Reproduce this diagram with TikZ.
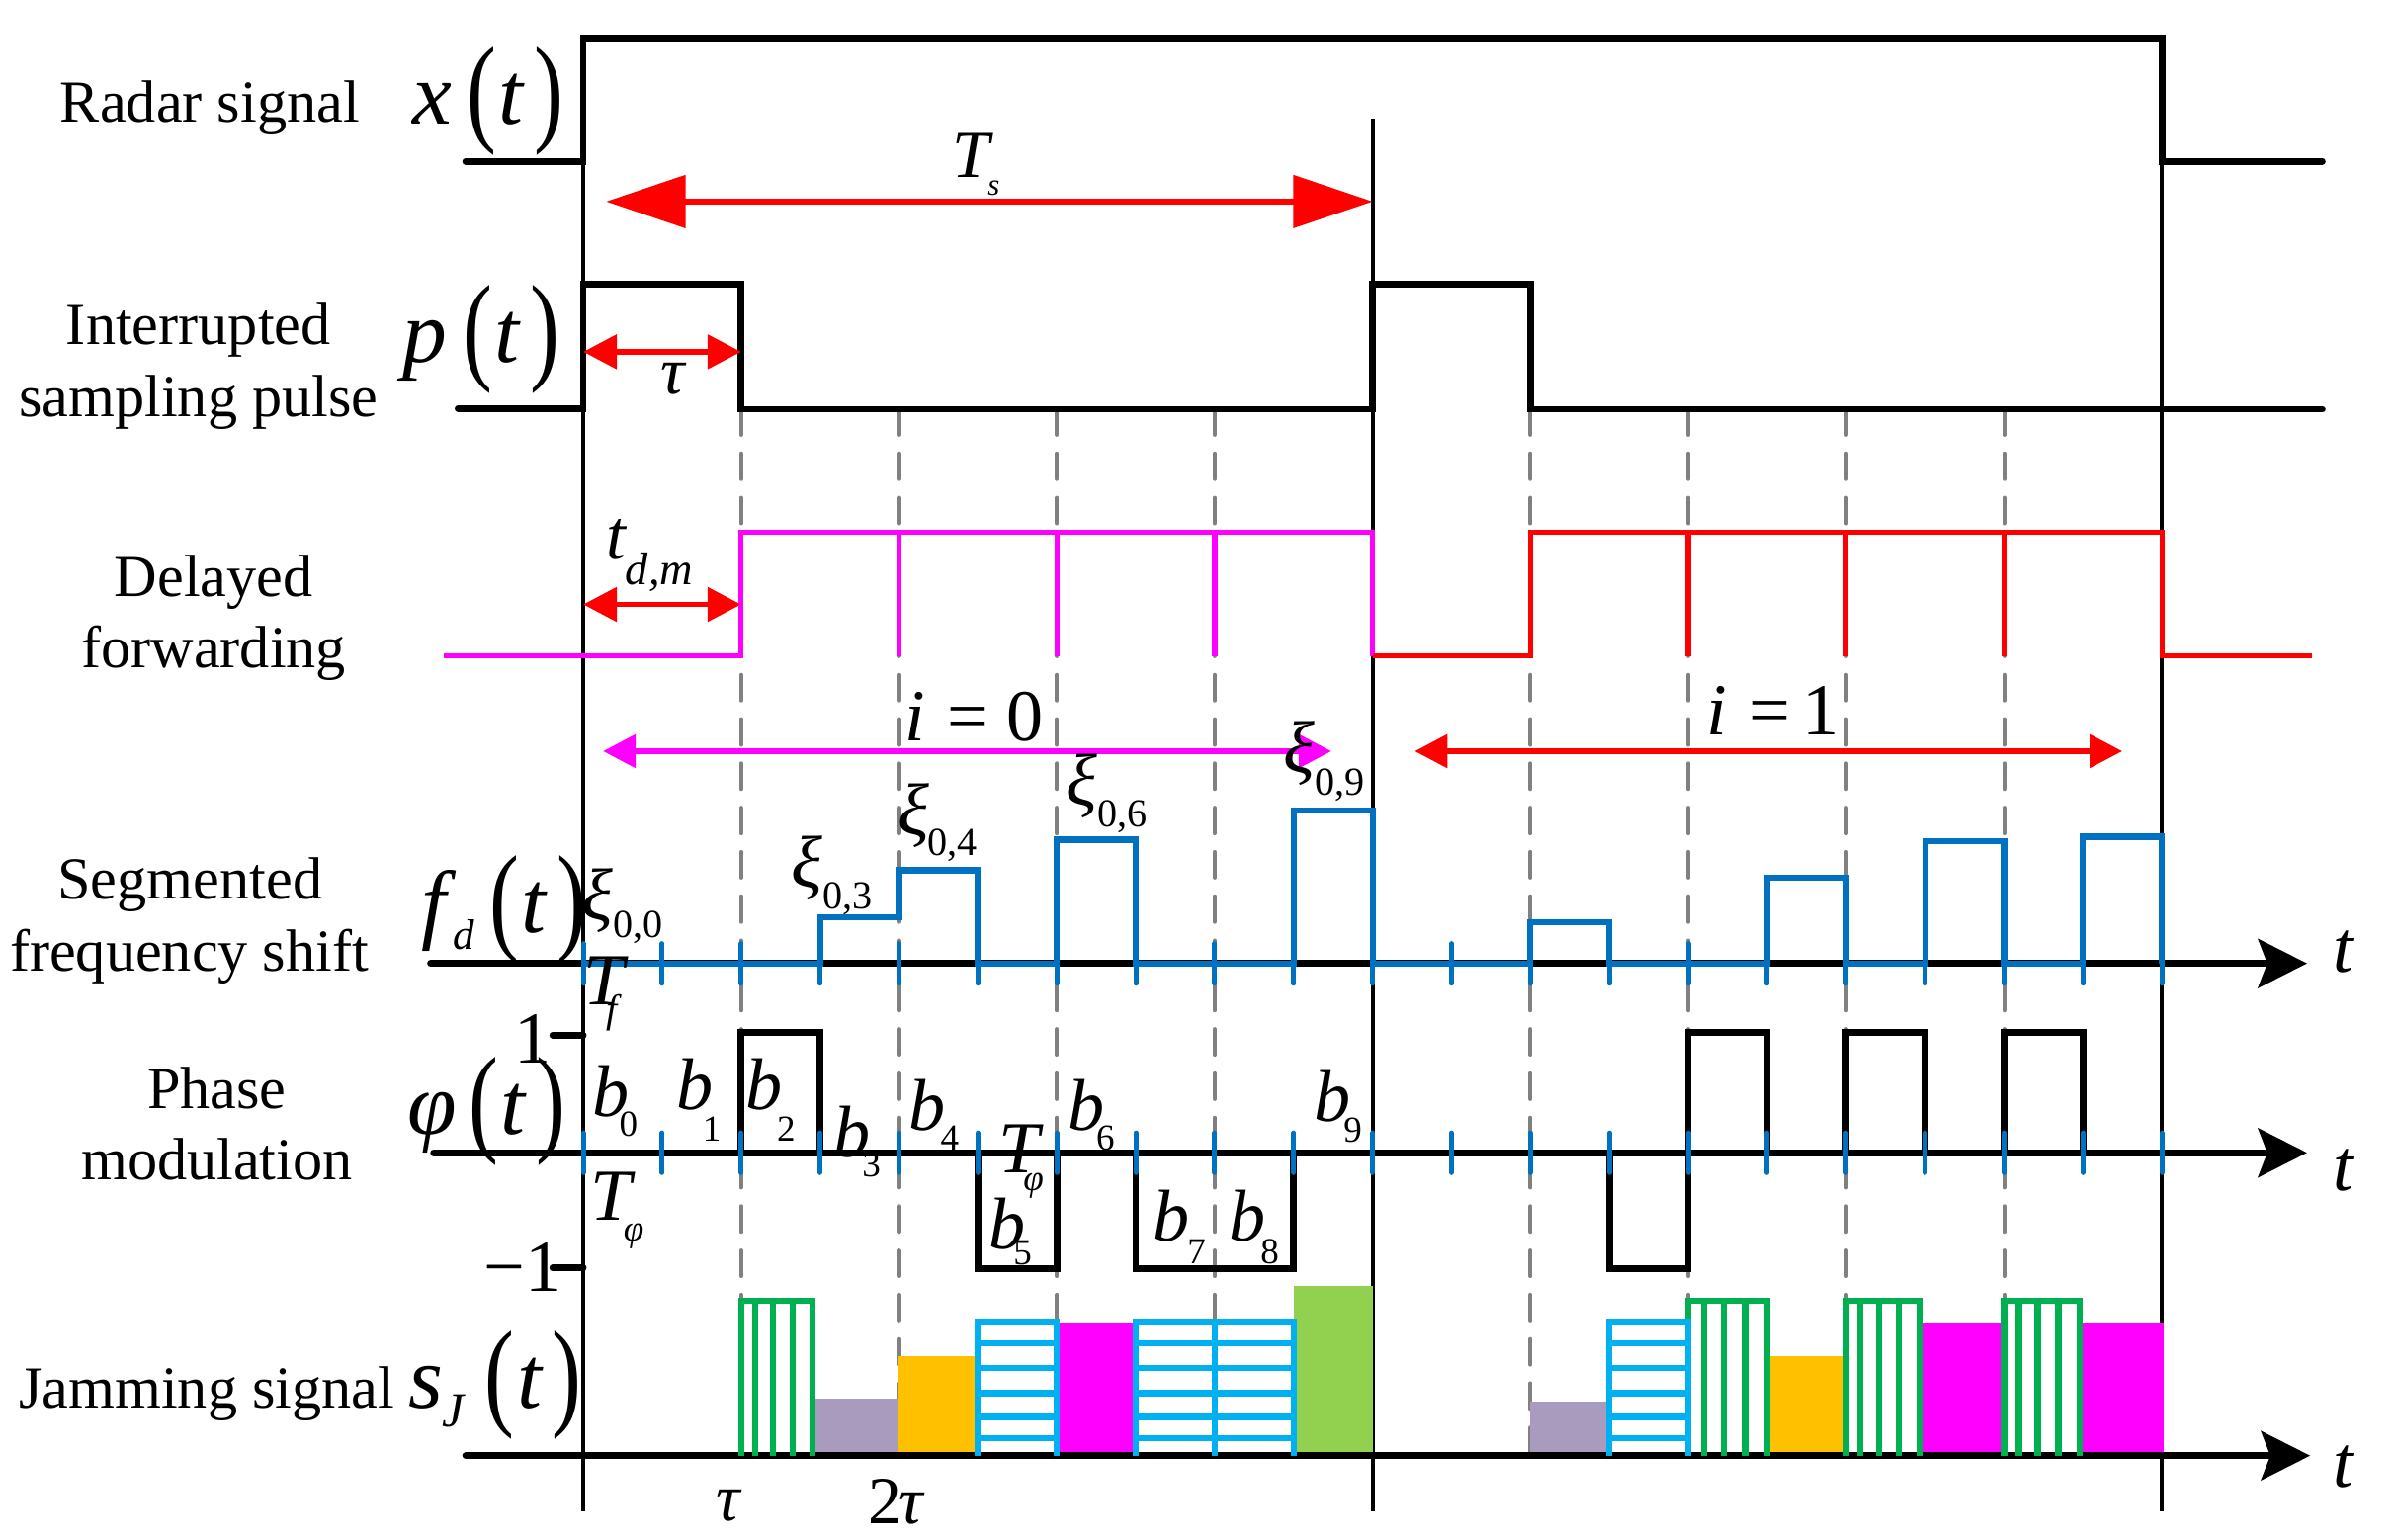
\documentclass[tikz,border=0pt]{standalone}
\usepackage{fontspec}
\setmainfont{Liberation Serif}
\usepackage{graphicx}
\usetikzlibrary{arrows.meta}
\definecolor{fblue}{HTML}{0070C0}
\definecolor{mag}{HTML}{FF00FF}
\definecolor{rd}{HTML}{FF0000}
\definecolor{dgray}{HTML}{808080}
\definecolor{grn}{HTML}{00B050}
\definecolor{cyn}{HTML}{00B0F0}
\definecolor{orng}{HTML}{FFC000}
\definecolor{lav}{HTML}{A99BBD}
\definecolor{lgrn}{HTML}{92D050}
\newcommand{\fs}[1]{\fontsize{#1}{#1}\selectfont}
\newcommand{\Lp}{\raisebox{-2pt}{\scalebox{1}[1.35]{\upshape(}}}
\newcommand{\Rp}{\raisebox{-2pt}{\scalebox{1}[1.35]{\upshape)}}}
\newcommand{\ofT}[1]{\kern#1\Lp\kern0.75pt\textit{t}\kern3pt\Rp}
\newcommand{\SL}[5]{{\itshape #1}\kern#3\raisebox{-#4}{\fontsize{#5}{#5}\selectfont #2}}
\newcommand{\VHbox}[3]{%
  \draw[grbox] (#1,953.4) -- (#1,#3) -- (#2,#3) -- (#2,953.4);
  \foreach \f in {0.196,0.445,0.72} \draw[grbox] ({#1+\f*(#2-#1)},#3) -- ({#1+\f*(#2-#1)},953.4);}
\newcommand{\HHbox}[2]{%
  \draw[cybox] (#1,953.4) -- (#1,865.5) -- (#2,865.5) -- (#2,953.4);
  \foreach \yy in {880,896,912.5,928,942} \draw[cybox] (#1,\yy) -- (#2,\yy);}
\begin{document}
\begin{tikzpicture}[x=0.5pt,y=-0.5pt,
  thinax/.style={black,line width=1.3pt},
  wavek/.style={black,line width=2.2pt,line cap=round},
  magw/.style={mag,line width=1.7pt},
  redw/.style={rd,line width=1.7pt},
  bluew/.style={fblue,line width=2pt},
  btick/.style={fblue,line width=1.6pt,line cap=round},
  gdash/.style={dgray,line width=1.3pt,line cap=round,dash pattern=on 8.4pt off 6.1pt},
  grbox/.style={grn,line width=2pt},
  cybox/.style={cyn,line width=2pt},
  redarr/.style={rd,line width=1.9pt},
  magarr/.style={mag,line width=1.9pt},
  axarr/.style={wavek,-{Stealth[length=16pt,width=16pt,inset=3pt]}},
  lab/.style={anchor=base west,inner sep=0pt,outer sep=0pt},
  eng/.style={anchor=base,inner sep=0pt,outer sep=0pt,font=\fs{19.5}}]
\useasboundingbox (0,0) rectangle (1568,1008);

% vertical reference lines
\draw[thinax] (382,24.8) -- (382,990);
\draw[thinax] (899,77.7) -- (899,990);
\draw[thinax] (1416,24.8) -- (1416,990);

% dashed guide lines
\foreach \x in {485.4,588.8,692.2,795.6,1002.4,1105.8,1209.2,1312.6}
  \draw[gdash] (\x,268) -- (\x,958);

% filled jamming bars
\fill[lav]  (532,916) rectangle (588.8,953.4);
\fill[orng] (588.8,888) rectangle (640.5,953.4);
\fill[mag]  (692.2,866) rectangle (743.9,953.4);
\fill[lgrn] (847.3,842) rectangle (899,953.4);
\fill[lav]  (1002.4,918) rectangle (1054.1,953.4);
\fill[orng] (1157.5,888) rectangle (1209.2,953.4);
\fill[mag]  (1257,866) rectangle (1312.6,953.4);
\fill[mag]  (1362,866) rectangle (1417,953.4);

% radar signal
\draw[wavek] (305,105.6) -- (382,105.6) -- (382,24.8) -- (1416,24.8) -- (1416,105.6) -- (1521,105.6);
% sampling pulse
\draw[wavek] (300,267.5) -- (382,267.5) -- (382,186) -- (485.4,186) -- (485.4,268) -- (899,268) -- (899,186) -- (1002.4,186) -- (1002.4,268) -- (1521,268);

% delayed forwarding
\draw[magw] (291,429.7) -- (485.4,429.7) -- (485.4,348.8) -- (899,348.8) -- (899,429.7);
\foreach \x in {588.8,692.2,795.6} \draw[magw] (\x,348.8) -- (\x,429.7);
\draw[redw] (899,429.7) -- (1002.4,429.7) -- (1002.4,348.8) -- (1416,348.8) -- (1416,429.7) -- (1514,429.7);
\foreach \x in {1105.8,1209.2,1312.6} \draw[redw] (\x,348.8) -- (\x,429.7);

% axes
\draw[axarr] (282,631) -- (1511,631);
\draw[axarr] (284,755) -- (1511,755);
\draw[axarr] (305,953.4) -- (1513,953.4);

% frequency shift waveform
\draw[bluew] (382,631) -- (537.1,631) -- (537.1,601) -- (588.8,601) -- (588.8,570) -- (640.5,570) -- (640.5,631) -- (692.2,631) -- (692.2,550) -- (743.9,550) -- (743.9,631) -- (847.3,631) -- (847.3,531) -- (899,531) -- (899,631) -- (1002.4,631) -- (1002.4,604) -- (1054.1,604) -- (1054.1,631) -- (1157.5,631) -- (1157.5,575) -- (1209.2,575) -- (1209.2,631) -- (1260.9,631) -- (1260.9,551) -- (1312.6,551) -- (1312.6,631) -- (1364.3,631) -- (1364.3,548) -- (1416,548) -- (1416,631);
\foreach \k in {0,...,20} {
  \draw[btick] ({382+\k*51.7},618) -- ({382+\k*51.7},644);
}

% phase waveform
\draw[wavek] (485.4,755) -- (485.4,676) -- (537.1,676) -- (537.1,755);
\draw[wavek] (640.5,755) -- (640.5,831) -- (692.2,831) -- (692.2,755);
\draw[wavek] (743.9,755) -- (743.9,831) -- (847.3,831) -- (847.3,755);
\draw[wavek] (1054.1,755) -- (1054.1,831) -- (1105.8,831) -- (1105.8,676) -- (1157.5,676) -- (1157.5,755);
\draw[wavek] (1209.2,755) -- (1209.2,676) -- (1260.9,676) -- (1260.9,755);
\draw[wavek] (1312.6,755) -- (1312.6,676) -- (1364.3,676) -- (1364.3,755);
\foreach \k in {0,...,20} {
  \draw[btick] ({382+\k*51.7},742) -- ({382+\k*51.7},768);
}
\draw[wavek] (362,678) -- (382,678);
\draw[wavek] (362,830.5) -- (382,830.5);

% hatched jamming bars
\VHbox{485.4}{532}{852}
\VHbox{1105.8}{1157.5}{852}
\VHbox{1209.2}{1257}{852}
\VHbox{1312.6}{1362}{852}
\HHbox{640.5}{692.2}
\HHbox{743.9}{795.6}
\HHbox{795.6}{847.3}
\HHbox{1054.1}{1105.8}

% dimension arrows
\coordinate (tsL) at (397,132);
\coordinate (tsR) at (899,132);
\draw[redarr,{Triangle[length=26pt,width=17pt]}-{Triangle[length=26pt,width=17pt]}] (tsL) -- (tsR);
\coordinate (tauL) at (382,230.4);
\coordinate (tauR) at (485.4,230.4);
\draw[redarr,{Triangle[length=11pt,width=11pt]}-{Triangle[length=11pt,width=11pt]}] (tauL) -- (tauR);
\coordinate (tdL) at (382,395.9);
\coordinate (tdR) at (485.4,395.9);
\draw[redarr,{Triangle[length=11pt,width=11pt]}-{Triangle[length=11pt,width=11pt]}] (tdL) -- (tdR);
\coordinate (i0L) at (395,492);
\coordinate (i0R) at (872,492);
\draw[magarr,{Triangle[length=10.7pt,width=10.7pt]}-{Triangle[length=10.7pt,width=10.7pt]}] (i0L) -- (i0R);
\coordinate (i1L) at (926.6,492);
\coordinate (i1R) at (1390,492);
\draw[redarr,{Triangle[length=10.7pt,width=10.7pt]}-{Triangle[length=10.7pt,width=10.7pt]}] (i1L) -- (i1R);

% row titles
\node[eng] (lr) at (137.5,80) {Radar signal};
\node[eng] (li1) at (130,225.5) {Interrupted};
\node[eng] (li2) at (130,273) {sampling pulse};
\node[eng] (ld1) at (140,390.6) {Delayed};
\node[eng] (ld2) at (140,437) {forwarding};
\node[eng] (ls1) at (124.5,589) {Segmented};
\node[eng] (ls2) at (124,636) {frequency shift};
\node[eng] (lp1) at (142,726) {Phase};
\node[eng] (lp2) at (142,772.4) {modulation};
\node[eng] (lj) at (135.4,922.3) {Jamming signal};

% function labels
\node[lab,font=\fs{29}] (fx) at (270,81) {\textit{x}\ofT{5pt}};
\node[lab,font=\fs{29}] (fp) at (264,237) {\textit{p}\ofT{5pt}};
\node[lab,font=\fs{29}] (ff) at (276,611) {\textit{f}\kern-1pt\raisebox{-5.5pt}{\fs{14}\itshape d}\ofT{5pt}};
\node[lab,font=\fs{29}] (fphi) at (267,743) {\textit{φ}\ofT{4pt}};
\node[lab,font=\fs{29}] (fs) at (268,922.3) {\textit{s}\kern-0.5pt\raisebox{-6pt}{\fs{16}\itshape J}\ofT{7pt}};

% parameter labels
\node[lab,font=\fs{22}] (Ts) at (624,116.5) {\SL{T}{\itshape s}{-0.75pt}{5.75pt}{10}};
\node[lab,font=\fs{22}] (tau1) at (433,258) {\textit{τ}};
\node[lab,font=\fs{23}] (tdm) at (397,366) {\SL{t}{\itshape d,m}{0pt}{8.5pt}{15}};
\node[lab,font=\fs{24}] (i0) at (593,485) {\textit{i}\kern7pt=\kern6pt0};
\node[lab,font=\fs{24}] (i1) at (1118,481.5) {\textit{i}\kern7pt=\kern4pt1};

\node[lab,font=\fs{24}] (x00) at (381,602.5) {\SL{ξ}{0,0}{0pt}{5.75pt}{13}};
\node[lab,font=\fs{24}] (x03) at (518.5,581) {\SL{ξ}{0,3}{0pt}{7pt}{13}};
\node[lab,font=\fs{24}] (x04) at (588,547) {\SL{ξ}{0,4}{-0.5pt}{6.5pt}{13}};
\node[lab,font=\fs{24}] (x06) at (698.5,527.5) {\SL{ξ}{0,6}{0pt}{7pt}{13}};
\node[lab,font=\fs{24}] (x09) at (840.5,506) {\SL{ξ}{0,9}{0pt}{7.5pt}{13}};
\node[lab,font=\fs{24}] (Tf) at (382,658) {\SL{T}{\itshape f}{-5.8pt}{6pt}{13}};
\node[lab,font=\fs{24}] (Tp1) at (387,799.4) {\SL{T}{\itshape φ}{-2.6pt}{6.8pt}{12}};
\node[lab,font=\fs{24}] (Tp2) at (654,768) {\SL{T}{\itshape φ}{-5.2pt}{5.75pt}{12}};

\node[lab,font=\fs{24}] (b0) at (388,731) {\SL{b}{0}{-3.2pt}{6.5pt}{12}};
\node[lab,font=\fs{24}] (b1) at (443.4,727) {\SL{b}{1}{-3.6pt}{10.3pt}{12}};
\node[lab,font=\fs{24}] (b2) at (488.6,727) {\SL{b}{2}{-1.8pt}{10.3pt}{12}};
\node[lab,font=\fs{24}] (b3) at (546,758) {\SL{b}{3}{-2.6pt}{6.5pt}{12}};
\node[lab,font=\fs{24}] (b4) at (595.5,740) {\SL{b}{4}{-1.7pt}{6.5pt}{12}};
\node[lab,font=\fs{24}] (b5) at (648,817.7) {\SL{b}{5}{-4.1pt}{5.4pt}{12}};
\node[lab,font=\fs{24}] (b6) at (699.4,740) {\SL{b}{6}{-2.7pt}{6.5pt}{12}};
\node[lab,font=\fs{24}] (b7) at (755.4,813) {\SL{b}{7}{-0.8pt}{7.2pt}{12}};
\node[lab,font=\fs{24}] (b8) at (805,813) {\SL{b}{8}{-1.7pt}{7.2pt}{12}};
\node[lab,font=\fs{24}] (b9) at (861,734.6) {\SL{b}{9}{-2.5pt}{6.7pt}{12}};

\node[lab,font=\fs{24}] (one) at (337,696) {1};
\node[lab,font=\fs{24}] (mone) at (317,846) {−1};

\node[lab,font=\fs{24}] (tf) at (1528,637) {\textit{t}};
\node[lab,font=\fs{24}] (tp) at (1528,780) {\textit{t}};
\node[lab,font=\fs{24}] (tj) at (1528,974) {\textit{t}};
\node[lab,font=\fs{22}] (tau2) at (469,996) {\textit{τ}};
\node[lab,font=\fs{22}] (tau3) at (569,997.8) {2\kern-1pt\textit{τ}};
\end{tikzpicture}
\end{document}
